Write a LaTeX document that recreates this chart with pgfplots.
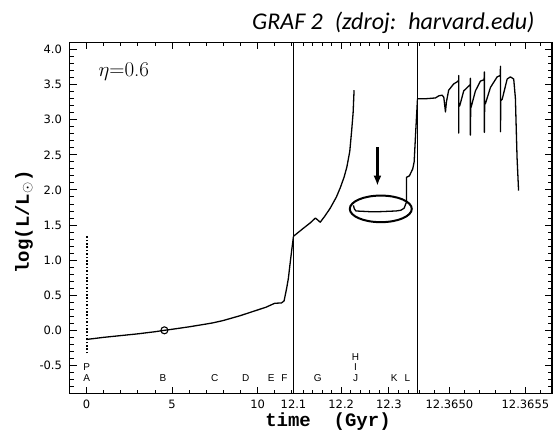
\documentclass[border=0pt]{standalone}
\usepackage{fontspec}
\usepackage{pgfplots}
\pgfplotsset{compat=1.18}
\usetikzlibrary{arrows.meta}
\newfontfamily\tickfont{DejaVu Sans}
\newfontfamily\titlefont{Carlito}
\newfontfamily\letfont{Liberation Sans}
\newfontfamily\monofont{Liberation Mono}
\newcommand\lblfont{\monofont\bfseries\fontsize{19}{19}\selectfont}

\pgfplotsset{
  panel/.style={
    scale only axis, height=351pt, anchor=south west,
    ymin=-0.9, ymax=4.1,
    axis line style={line width=1.1pt},
    tick style={black, line width=0.9pt},
    major tick length=7pt, minor tick length=4pt,
    tick align=inside,
    xtick pos=both,
    tick label style={font=\tickfont\fontsize{11.5}{12}\selectfont},
    /pgf/number format/assume math mode=true,
    xticklabel shift=3pt, yticklabel shift=4pt,
  },
  curve/.style={black, line width=1.3pt, line join=round, no marks},
}
\tikzset{letter/.style={font=\letfont\fontsize{10}{10}\selectfont, inner sep=0pt}}

\begin{document}
\begin{tikzpicture}[x=1pt,y=1pt]
\useasboundingbox (0,0) rectangle (556,436);

% panel 1: main sequence
\begin{axis}[panel, at={(69.5pt,42.5pt)}, width=224pt,
  xmin=-1, xmax=12.1,
  xtick={0,5,10}, minor xtick={1,2,3,4,6,7,8,9,11,12},
  ytick={-0.5,0,...,4}, minor ytick={-0.8,-0.7,-0.6,-0.4,-0.3,-0.2,-0.1,0.1,0.2,0.3,0.4,0.6,0.7,0.8,0.9,1.1,1.2,1.3,1.4,1.6,1.7,1.8,1.9,2.1,2.2,2.3,2.4,2.6,2.7,2.8,2.9,3.1,3.2,3.3,3.4,3.6,3.7,3.8,3.9,4.1},
  ytick pos=left,
  yticklabel style={/pgf/number format/.cd, fixed, fixed zerofill, precision=1},
]
\addplot[curve] coordinates {
  (0,-0.13) (1,-0.10) (2,-0.075) (3,-0.05) (4,-0.02) (4.55,0.0) (5,0.015)
  (6,0.05) (7,0.09) (7.4,0.107) (8,0.14) (9,0.21) (10,0.29) (10.5,0.33)
  (11.0,0.385) (11.4,0.39) (11.55,0.42) (11.7,0.60) (11.8,0.74) (11.9,0.95)
  (12.0,1.15) (12.1,1.34)
};
\addplot[line width=2pt, dash pattern=on 1.6pt off 1.8pt] coordinates {(0,-0.33) (0,1.34)};
\addplot[only marks, mark=o, mark size=3.5pt, mark options={line width=1.1pt}] coordinates {(4.55,0.0)};
\node[anchor=west, font=\fontsize{21}{21}\selectfont] at (axis cs:0.5,3.68) {$\eta$=0.6};
\node[letter] at (axis cs:0,-0.52) {P};
\node[letter] at (axis cs:0,-0.68) {A};
\node[letter] at (axis cs:4.47,-0.68) {B};
\node[letter] at (axis cs:7.49,-0.68) {C};
\node[letter] at (axis cs:9.30,-0.68) {D};
\node[letter] at (axis cs:10.80,-0.68) {E};
\node[letter] at (axis cs:11.57,-0.68) {F};
\end{axis}

% panel 2: giant branch and horizontal branch
\begin{axis}[panel, at={(293.5pt,42.5pt)}, width=124pt,
  xmin=12.1, xmax=12.36,
  xtick={12.1,12.2,12.3}, xticklabels={12.1,12.2,12.3},
  minor xtick={12.12,12.14,12.16,12.18,12.22,12.24,12.26,12.28,12.32,12.34},
  ytick=\empty,
]
\addplot[curve] coordinates {
  (12.1,1.34) (12.12,1.45) (12.135,1.53) (12.146,1.60) (12.151,1.57)
  (12.156,1.54) (12.165,1.62) (12.177,1.74) (12.19,1.90) (12.198,2.03)
  (12.206,2.18) (12.212,2.33) (12.218,2.55) (12.222,2.85) (12.225,3.1)
  (12.227,3.42)
};
\addplot[curve] coordinates {
  (12.2255,1.78) (12.2276,1.73) (12.231,1.70) (12.26,1.69) (12.28,1.69)
  (12.315,1.70) (12.325,1.71) (12.332,1.74) (12.337,1.83) (12.337,2.18)
  (12.343,2.20) (12.35,2.30) (12.353,2.40) (12.356,2.8) (12.36,3.30)
};
\draw[line width=2pt] (axis cs:12.283,1.73) ellipse [x radius=31pt, y radius=13.3pt];
\draw[-{Latex[length=10pt,width=8pt]}, line width=2.2pt] (axis cs:12.276,2.61) -- (axis cs:12.276,2.06);
\node[letter] at (axis cs:12.151,-0.68) {G};
\node[letter] at (axis cs:12.230,-0.38) {H};
\node[letter] at (axis cs:12.230,-0.52) {I};
\node[letter] at (axis cs:12.230,-0.68) {J};
\node[letter] at (axis cs:12.311,-0.68) {K};
\node[letter] at (axis cs:12.339,-0.68) {L};
\end{axis}

% panel 3: thermal pulses (x in units of 1e-4 Gyr after 12.365 Gyr)
\begin{axis}[panel, at={(417.5pt,42.5pt)}, width=134.5pt,
  xmin=-2.1, xmax=6.75,
  xtick={0,5}, xticklabels={12.3650,12.3655},
  minor xtick={-2,-1,1,2,3,4,6},
  ytick={-0.5,0,...,4}, minor ytick={-0.8,-0.7,-0.6,-0.4,-0.3,-0.2,-0.1,0.1,0.2,0.3,0.4,0.6,0.7,0.8,0.9,1.1,1.2,1.3,1.4,1.6,1.7,1.8,1.9,2.1,2.2,2.3,2.4,2.6,2.7,2.8,2.9,3.1,3.2,3.3,3.4,3.6,3.7,3.8,3.9,4.1},
  ytick pos=right, yticklabels={},
]
\addplot[curve] coordinates {
  (-2.1,3.30) (-1.5,3.30) (-0.92,3.31) (-0.70,3.34) (-0.48,3.35) (-0.37,3.32)
  (-0.26,3.11) (-0.20,3.25) (-0.05,3.42) (0.28,3.51) (0.51,3.54)
  (0.61,3.56) (0.61,3.63) (0.61,2.81) (0.62,3.19) (0.68,3.20) (0.94,3.41)
  (1.27,3.48) (1.37,3.50) (1.38,3.59) (1.38,2.78) (1.40,3.17) (1.43,3.18)
  (1.71,3.41) (2.04,3.55) (2.28,3.57) (2.30,3.68) (2.30,2.82) (2.32,3.22)
  (2.37,3.23) (2.70,3.46) (3.14,3.61) (3.34,3.63) (3.36,3.76) (3.36,2.83)
  (3.38,3.27) (3.47,3.29) (3.80,3.58) (4.01,3.61) (4.23,3.58) (4.34,3.31)
  (4.45,2.46) (4.55,1.99)
};
\end{axis}

\node[rotate=90, font=\lblfont] at (24,214) {log(L/L$_\odot$)};
\node[anchor=base, font=\lblfont, inner sep=0pt] at (328,9.5) {time~~(Gyr)};
\node[anchor=base east, font=\titlefont\itshape\fontsize{24}{24}\selectfont] at (538,406.7) {GRAF 2\hspace{12pt}(zdroj:\hspace{12pt}harvard.edu)};
\end{tikzpicture}
\end{document}
